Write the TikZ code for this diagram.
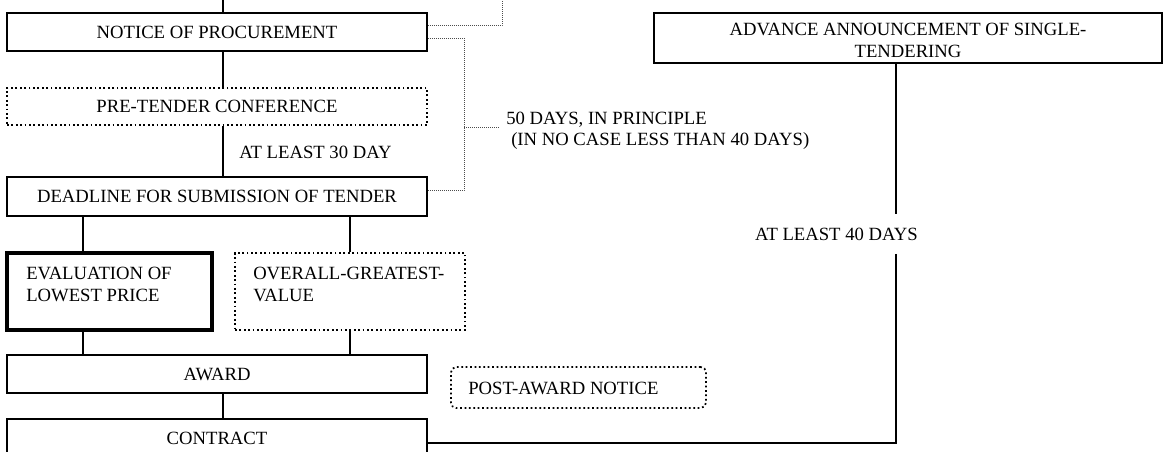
\documentclass[tikz,border=0pt]{standalone}
\usepackage{fontspec}
\setmainfont{Liberation Serif}
\usetikzlibrary{fit}
\begin{document}
\begin{tikzpicture}[x=0.75pt,y=-0.75pt,font=\fontsize{14}{16}\selectfont]
\tikzset{
  solidbox/.style={draw, line width=1.2pt, inner sep=0pt},
  thickbox/.style={draw, line width=3pt, inner sep=0pt},
  dotbox/.style={draw, line width=1.3pt, dotted, inner sep=0pt},
  conn/.style={line width=1.1pt},
  dotconn/.style={line width=0.5pt, densely dotted, black!70},
  lbl/.style={inner sep=0pt, anchor=west, align=left},
  mid/.style={label={[inner sep=0pt, align=center]center:#1}},
}
\useasboundingbox (0,0) rectangle (1163,452);
% boxes
\node[solidbox, fit={(7,13)(427,51)}, mid={NOTICE OF PROCUREMENT}] (notice) {};
\node[dotbox, fit={(7,88)(427,125)}, mid={PRE-TENDER CONFERENCE}] (pre) {};
\node[solidbox, fit={(7,177)(427,216)}, mid={DEADLINE FOR SUBMISSION OF TENDER}] (dead) {};
\node[thickbox, fit={(7,253)(212,330)}] (eval) {};
\node[lbl] (evalt) at (26,284.5) {EVALUATION OF\\LOWEST PRICE};
\node[dotbox, fit={(235,253)(465,330)}] (over) {};
\node[lbl] (overt) at (253,284.5) {OVERALL-GREATEST-\\VALUE};
\node[solidbox, fit={(7,355)(427,393)}, mid={AWARD}] (award) {};
\node[solidbox, fit={(7,419)(427,457)}, mid={CONTRACT}] (contract) {};
\node[dotbox, rounded corners=4pt, fit={(451,367)(706,408)}] (post) {};
\node[lbl] (postt) at (468,388) {POST-AWARD NOTICE};
\node[solidbox, fit={(654,13)(1162,63)}] (adv) {};
\node[inner sep=0pt, align=center] (advt) at (908,40.5) {ADVANCE ANNOUNCEMENT OF SINGLE-\\[1pt]TENDERING};
% labels
\node[lbl] (l30) at (239,152) {AT LEAST 30 DAY};
\node[lbl] (l50a) at (506,120) {50 DAYS, IN PRINCIPLE};
\node[lbl] (l50b) at (511,141) {(IN NO CASE LESS THAN 40 DAYS)};
\node[inner sep=0pt, anchor=east] (l40) at (918,234) {AT LEAST 40 DAYS};
% coordinates
\coordinate (cx) at (223,0);
\coordinate (lx) at (83,0);
\coordinate (rx) at (350,0);
\coordinate (vx) at (896,0);
\coordinate (d1) at (502,0);
\coordinate (d2) at (464,0);
\coordinate (y25) at (0,25);
\coordinate (y38) at (0,38);
\coordinate (y127) at (0,127);
\coordinate (y190) at (0,190);
\coordinate (y443) at (0,443);
\coordinate (gaptop) at (0,214);
\coordinate (gapbot) at (0,254);
\coordinate (stubend) at (500,127);
% solid connectors
\draw[conn] (cx) -- (cx |- notice.north);
\draw[conn] (cx |- notice.south) -- (cx |- pre.north);
\draw[conn] (cx |- pre.south) -- (cx |- dead.north);
\draw[conn] (lx |- dead.south) -- (lx |- eval.north);
\draw[conn] (rx |- dead.south) -- (rx |- over.north);
\draw[conn] (lx |- eval.south) -- (lx |- award.north);
\draw[conn] (rx |- over.south) -- (rx |- award.north);
\draw[conn] (cx |- award.south) -- (cx |- contract.north);
\draw[conn] (vx |- adv.south) -- (vx |- gaptop);
\draw[conn] (vx |- gapbot) -- (vx |- y443) -- (contract.east |- y443);
% dotted connectors
\draw[dotconn] (notice.east |- y25) -| (d1);
\draw[dotconn] (notice.east |- y38) -| (d2 |- y190) -- (dead.east |- y190);
\draw[dotconn] (d2 |- y127) -- (stubend);
\end{tikzpicture}
\end{document}
